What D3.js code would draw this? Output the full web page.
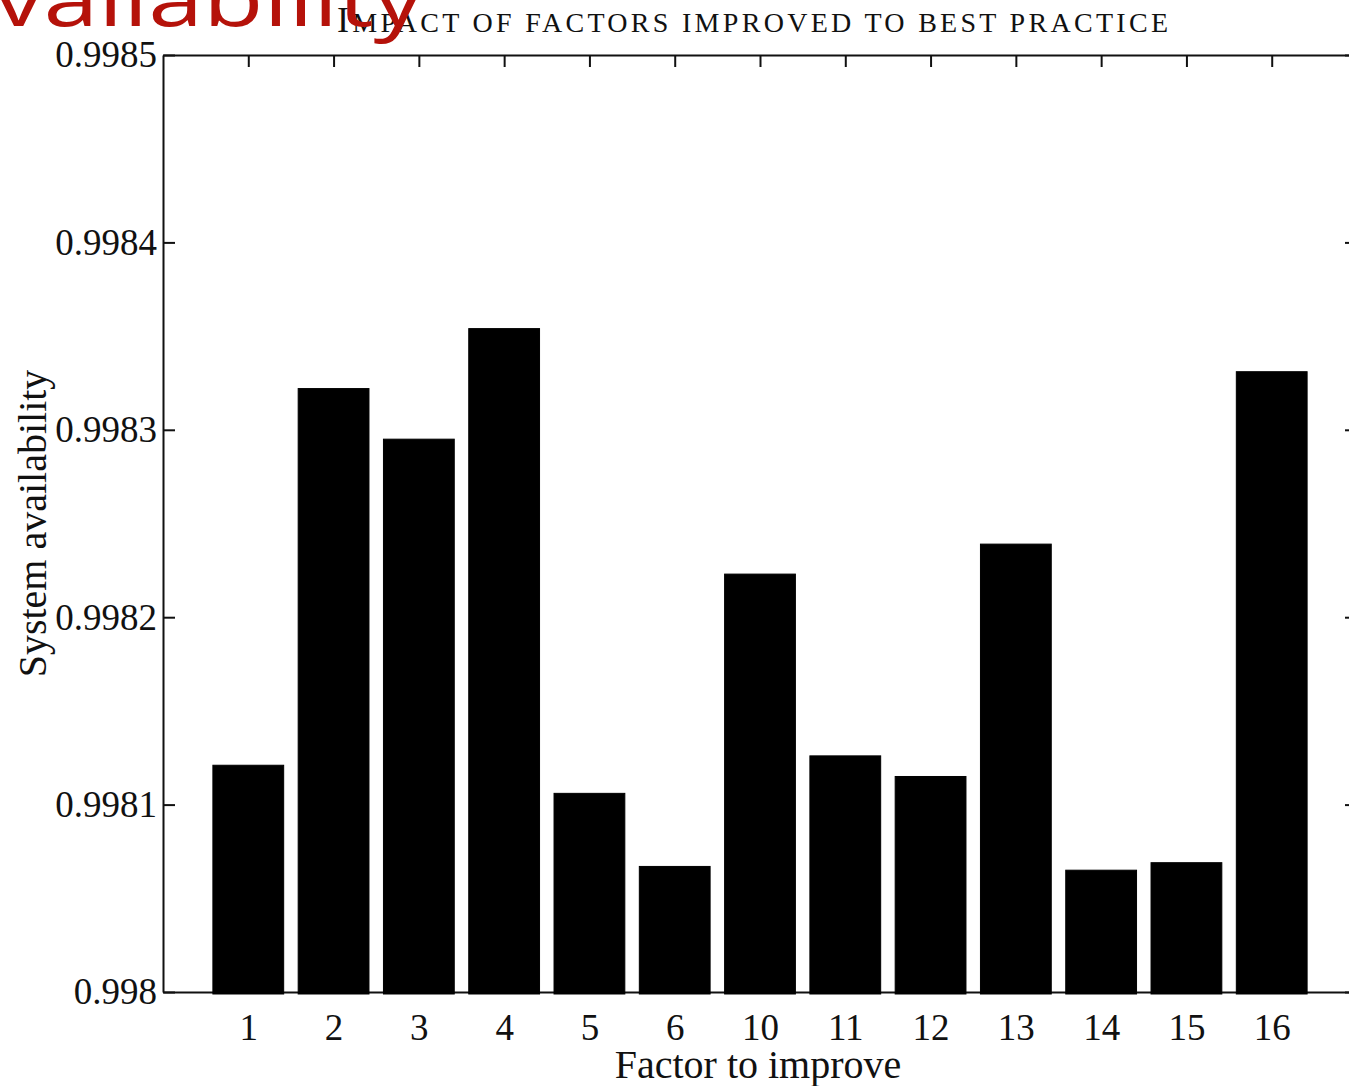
<!DOCTYPE html>
<html lang="en">

<head>
  <title></title>
  <meta charset="UTF-8">
  <style>
    body {
      margin: 0;
      background: #fff;
    }
  </style>
</head>

<body>
  <div id="container"></div>
  <script src="https://cdn.jsdelivr.net/npm/d3@7"></script>
  <script>
    const factors = ['1', '2', '3', '4', '5', '6', '10', '11', '12', '13', '14', '15', '16'];
    const availability = [0.998121, 0.998322, 0.998295, 0.998354, 0.998106, 0.998067, 0.998223,
      0.998126, 0.998115, 0.998239, 0.998065, 0.998069, 0.998331];
    const yTicks = [0.998, 0.9981, 0.9982, 0.9983, 0.9984, 0.9985];

    const size = { w: 1349, h: 1086 };
    const plot = { left: 163, top: 55, right: 1357, bottom: 992 };
    const serif = '"Liberation Serif", "Times New Roman", serif';

    const svg = d3.select('#container')
      .append('svg')
      .attr('width', size.w)
      .attr('height', size.h);

    const x = d3.scalePoint()
      .domain(factors)
      .range([plot.left, plot.right])
      .padding(1);
    const barW = x.step() * 0.83;

    const y = d3.scaleLinear()
      .domain([0.998, 0.9985])
      .range([plot.bottom, plot.top]);

    const fmt = d => String(+d.toFixed(4));

    // axes (ticks inward, mirrored like matlab box)
    const axisBottom = d3.axisBottom(x).tickSizeInner(-12).tickSizeOuter(0).tickPadding(22);
    const axisTop = d3.axisTop(x).tickSizeInner(-12).tickSizeOuter(0).tickFormat('');
    const axisLeft = d3.axisLeft(y).tickValues(yTicks).tickSizeInner(-12).tickSizeOuter(0)
      .tickPadding(6).tickFormat(fmt);
    const axisRight = d3.axisRight(y).tickValues(yTicks).tickSizeInner(-12).tickSizeOuter(0).tickFormat('');

    function styleAxis(g) {
      g.select('.domain').attr('stroke', '#111').attr('stroke-width', 2);
      g.selectAll('.tick line').attr('stroke', '#111').attr('stroke-width', 2);
      g.selectAll('text')
        .attr('fill', '#111')
        .style('font-family', serif)
        .style('font-size', '37px');
    }

    svg.append('g').attr('transform', `translate(0,${plot.bottom})`).call(axisBottom).call(styleAxis);
    svg.append('g').attr('transform', `translate(0,${plot.top})`).call(axisTop).call(styleAxis);
    svg.append('g').attr('transform', `translate(${plot.left},0)`).call(axisLeft).call(styleAxis);
    svg.append('g').attr('transform', `translate(${plot.right},0)`).call(axisRight).call(styleAxis);

    // bars
    svg.append('g')
      .selectAll('rect')
      .data(factors)
      .join('rect')
      .attr('x', (d, i) => x(d) - barW / 2)
      .attr('y', (d, i) => y(availability[i]))
      .attr('width', barW)
      .attr('height', (d, i) => y(0.998) - y(availability[i]) + 2)
      .attr('fill', '#000')
      .attr('stroke', '#000')
      .attr('stroke-width', 1);

    // labels
    svg.append('text')
      .attr('x', 758)
      .attr('y', 1078)
      .attr('text-anchor', 'middle')
      .style('font-family', serif)
      .style('font-size', '40px')
      .attr('fill', '#111')
      .text('Factor to improve');

    svg.append('text')
      .attr('transform', `translate(46,${(plot.top + plot.bottom) / 2}) rotate(-90)`)
      .attr('text-anchor', 'middle')
      .style('font-family', serif)
      .style('font-size', '40px')
      .attr('fill', '#111')
      .text('System availability');

    // small-caps title: first letter big, the rest smaller capitals
    const title = svg.append('text')
      .attr('x', 337)
      .attr('y', 32)
      .attr('textLength', 831)
      .attr('lengthAdjust', 'spacing')
      .style('font-family', serif)
      .attr('fill', '#111');
    title.append('tspan').style('font-size', '36px').text('I');
    title.append('tspan').style('font-size', '28px').text('MPACT OF FACTORS IMPROVED TO BEST PRACTICE');

    // slide heading, cut off by the frame
    svg.append('text')
      .attr('transform', 'translate(423,26) scale(1.3,1)')
      .attr('text-anchor', 'end')
      .style('font-family', '"Open Sans", sans-serif')
      .style('font-size', '76px')
      .attr('fill', '#b5120a')
      .text('Availability');
  </script>
</body>

</html>
